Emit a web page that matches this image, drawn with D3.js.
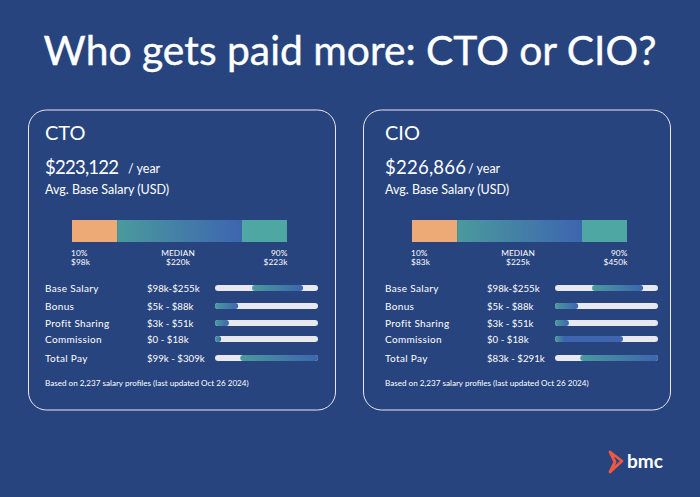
<!DOCTYPE html>
<html>
<head>
<meta charset="utf-8">
<script src="https://cdn.jsdelivr.net/npm/d3@7"></script>
<style>
  html, body { margin: 0; padding: 0; background: #27447f; }
  svg { display: block; }
  text { font-family: Lato, sans-serif; fill: #fff; }
</style>
</head>
<body>
<div class="svg-container"></div>
<script>
const rowNames = ['Base Salary', 'Bonus', 'Profit Sharing', 'Commission', 'Total Pay']
const bandNames = ['10%', 'MEDIAN', '90%']
const bandShares = [21, 58, 21]

const ctoBandValues = ['$98k', '$220k', '$223k']
const ctoRanges = ['$98k-$255k', '$5k - $88k', '$3k - $51k', '$0 - $18k', '$99k - $309k']
// fill start / end, as percent of the track
const ctoFillStart = [36, 0, 0, 0, 24.5]
const ctoFillEnd = [85.5, 22.5, 13.5, 6, 100]

const cioBandValues = ['$83k', '$225k', '$450k']
const cioRanges = ['$98k-$255k', '$5k - $88k', '$3k - $51k', '$0 - $18k', '$83k - $291k']
const cioFillStart = [36, 0, 0, 0, 24.5]
const cioFillEnd = [85.5, 22.5, 13.5, 66, 100]

const footnote = 'Based on 2,237 salary profiles (last updated Oct 26 2024)'

const width = 700
const height = 497
const cardWidth = 307
const cardHeight = 300

const svg = d3.select('.svg-container')
  .append('svg')
  .attr('width', width)
  .attr('height', height)

const defs = svg.append('defs')

const gradient = defs.append('linearGradient')
  .attr('id', 'fill-gradient')

gradient.append('stop').attr('offset', '0%').attr('stop-color', '#4a9a9c')
gradient.append('stop').attr('offset', '100%').attr('stop-color', '#3d65b0')

// long bar that starts at zero goes blue almost straight away
const shortGradient = defs.append('linearGradient')
  .attr('id', 'fill-gradient-short')

shortGradient.append('stop').attr('offset', '0%').attr('stop-color', '#4a9a9c')
shortGradient.append('stop').attr('offset', '14%').attr('stop-color', '#3d65b0')
shortGradient.append('stop').attr('offset', '100%').attr('stop-color', '#3d65b0')

svg.append('rect')
  .attr('width', width)
  .attr('height', height)
  .attr('fill', '#27447f')

svg.append('text')
  .attr('x', 350)
  .attr('y', 65)
  .attr('text-anchor', 'middle')
  .attr('font-size', 40.8)
  .attr('font-weight', 400)
  .attr('stroke', '#fff')
  .attr('stroke-width', 0.4)
  .text('Who gets paid more: CTO or CIO?')

const rowY = d3.scalePoint(rowNames, [175, 245])
const rowNudge = [0, 0.5, 0, -1.5, 0]
const bandX = d3.scaleLinear([0, 100], [44, 259])
const trackX = d3.scaleLinear([0, 100], [187, 290])
const bandColors = ['#edaa77', 'url(#fill-gradient)', '#4fa7a3']

function drawCard (left, inset, title, salary, salaryWidth, bandValues, ranges, fillStart, fillEnd) {
  const outer = svg.append('g').attr('transform', `translate(${left}, 110)`)

  outer.append('rect')
    .attr('x', 0.5)
    .attr('y', 0)
    .attr('width', cardWidth)
    .attr('height', cardHeight)
    .attr('rx', 18)
    .attr('fill', 'none')
    .attr('stroke', '#e8e8f0')
    .attr('stroke-width', 1)

  const card = outer.append('g').attr('transform', `translate(${inset}, 0)`)

  card.append('text').attr('x', 17).attr('y', 30).attr('font-size', 20).text(title)
  card.append('text')
    .attr('x', 17)
    .attr('y', 64)
    .attr('font-size', 18.5)
    .attr('textLength', salaryWidth)
    .text(salary)
  card.append('text').attr('x', 100).attr('y', 63).attr('font-size', 12.5).text('/ year')
  card.append('text').attr('x', 17).attr('y', 84).attr('font-size', 12.5).text('Avg. Base Salary (USD)')

  const stacked = d3.cumsum(bandShares)

  card.selectAll('.band')
    .data(bandShares)
    .join('rect')
    .attr('class', 'band')
    .attr('x', (d, i) => bandX(stacked[i] - d))
    .attr('y', 110)
    .attr('width', d => bandX(d) - bandX(0))
    .attr('height', 22)
    .attr('fill', (d, i) => bandColors[i])

  const anchors = ['start', 'middle', 'end']
  const labelX = [bandX(0) - 1, bandX(50) - 1.5, bandX(100) + 0.5]

  bandNames.forEach((name, i) => {
    card.append('text')
      .attr('x', labelX[i])
      .attr('y', 146)
      .attr('text-anchor', anchors[i])
      .attr('font-size', 8.3)
      .attr('letter-spacing', 0.1)
      .text(name)
    card.append('text')
      .attr('x', labelX[i])
      .attr('y', 155)
      .attr('text-anchor', anchors[i])
      .attr('font-size', 8.3)
      .attr('letter-spacing', 0.1)
      .text(bandValues[i])
  })

  rowNames.forEach((name, i) => {
    const top = rowY(name) + rowNudge[i]
    const base = top + 7
    card.append('text')
      .attr('x', 17)
      .attr('y', base)
      .attr('font-size', 10)
      .attr('letter-spacing', 0.35)
      .text(name)
    card.append('text').attr('x', 119).attr('y', base).attr('font-size', 9.7).text(ranges[i])

    card.append('rect')
      .attr('x', trackX(0))
      .attr('y', top)
      .attr('width', trackX(100) - trackX(0))
      .attr('height', 6)
      .attr('rx', 3)
      .attr('fill', '#e8e8ef')

    const isLongFromZero = fillStart[i] === 0 && fillEnd[i] > 50

    card.append('rect')
      .attr('x', trackX(fillStart[i]))
      .attr('y', top)
      .attr('width', trackX(fillEnd[i]) - trackX(fillStart[i]))
      .attr('height', 6)
      .attr('rx', 3)
      .attr('fill', isLongFromZero ? 'url(#fill-gradient-short)' : 'url(#fill-gradient)')
  })

  card.append('text').attr('x', 17).attr('y', 276).attr('font-size', 8.1).text(footnote)
}

drawCard(28, 0, 'CTO', '$223,122', 74, ctoBandValues, ctoRanges, ctoFillStart, ctoFillEnd)
drawCard(363, 5, 'CIO', '$226,866', 81, cioBandValues, cioRanges, cioFillStart, cioFillEnd)

// bmc logo
svg.append('path')
  .attr('d', 'M610 452 L622 461 L610 472 L615 462 Z')
  .attr('fill', 'none')
  .attr('stroke', '#f0583f')
  .attr('stroke-width', 2.8)
  .attr('stroke-linejoin', 'round')

svg.append('text')
  .attr('x', 627)
  .attr('y', 468)
  .attr('font-size', 19)
  .attr('font-weight', 700)
  .text('bmc')
</script>
</body>
</html>
